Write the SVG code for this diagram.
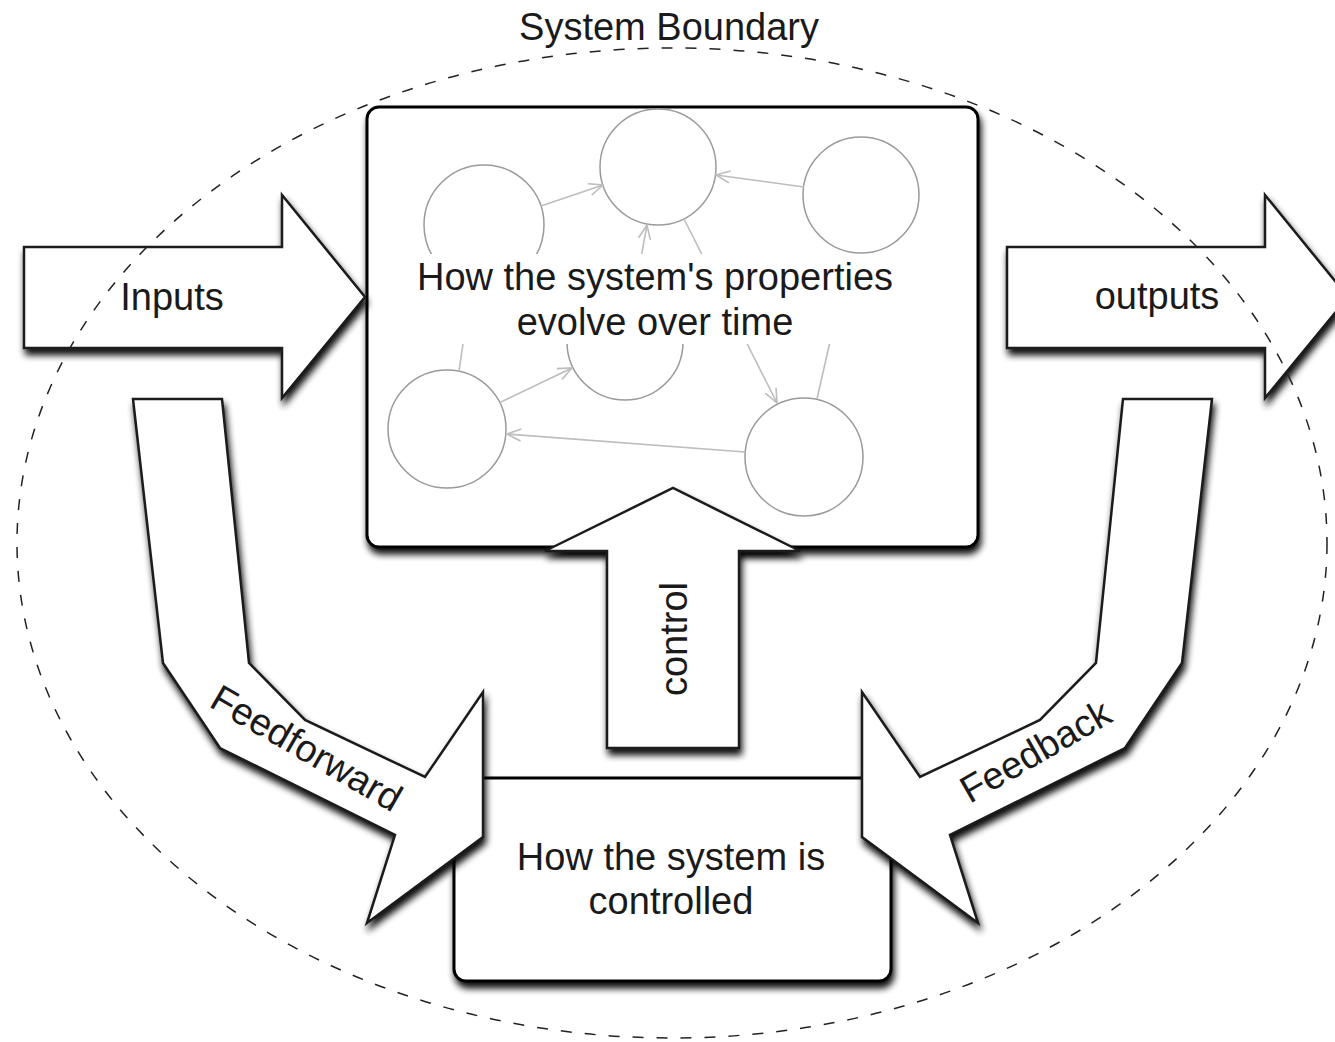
<svg xmlns="http://www.w3.org/2000/svg" width="1335" height="1042" viewBox="0 0 1335 1042">
<style>
text{font-family:"Liberation Sans",Arial,sans-serif;font-size:38px;fill:#1a1a1a;text-anchor:middle}
.box{fill:#fff;stroke:#000;stroke-width:3}
.arr{fill:#fff;stroke:#1a1a1a;stroke-width:2.5;stroke-linejoin:miter}
.circ{fill:none;stroke:#9a9a9a;stroke-width:1.5}
.link{fill:none;stroke:#bdbdbd;stroke-width:1.6}
.bound{fill:none;stroke:#222;stroke-width:1.5;stroke-dasharray:11 13}
</style>
<defs>
<filter id="sh" x="-20%" y="-20%" width="140%" height="150%">
<feGaussianBlur in="SourceAlpha" stdDeviation="3.5"/>
<feOffset dx="2" dy="6" result="o"/>
<feComponentTransfer in="o" result="s"><feFuncA type="linear" slope="0.95"/></feComponentTransfer>
<feMerge><feMergeNode in="s"/><feMergeNode in="SourceGraphic"/></feMerge>
</filter>
<marker id="open" markerUnits="userSpaceOnUse" markerWidth="16" markerHeight="14" viewBox="0 0 16 14" refX="15" refY="7" orient="auto">
<path d="M1,1 L15,7 L1,13" fill="none" stroke="#bdbdbd" stroke-width="1.6"/>
</marker>
</defs>
<rect width="1335" height="1042" fill="#fff"/>

<g id="dynamics-box">
<rect class="box" x="367" y="107" width="611" height="440" rx="12" filter="url(#sh)"/>
<g id="state-circles">
<circle class="circ" cx="658" cy="167" r="58"/>
<circle class="circ" cx="861" cy="195" r="58"/>
<circle class="circ" cx="484" cy="225" r="60"/>
<circle class="circ" cx="625" cy="342" r="58"/>
<circle class="circ" cx="447" cy="429" r="59"/>
<circle class="circ" cx="804" cy="457" r="59"/>
</g>
<g id="state-links">
<line class="link" x1="541" y1="206" x2="603" y2="185" marker-end="url(#open)"/>
<line class="link" x1="804" y1="187" x2="716" y2="175" marker-end="url(#open)"/>
<line class="link" x1="636" y1="285" x2="647" y2="225" marker-end="url(#open)"/>
<line class="link" x1="684" y1="219" x2="777" y2="403" marker-end="url(#open)"/>
<line class="link" x1="459" y1="371" x2="468" y2="310"/>
<line class="link" x1="501" y1="402" x2="572" y2="368" marker-end="url(#open)"/>
<line class="link" x1="745" y1="452" x2="507" y2="434" marker-end="url(#open)"/>
<line class="link" x1="817" y1="399" x2="836" y2="315"/>
</g>
<rect x="400" y="254" width="510" height="90" fill="#fff"/>
<text x="655" y="290">How the system's properties</text>
<text x="655" y="335">evolve over time</text>
</g>

<g id="control-box">
<rect class="box" x="454" y="778" width="437" height="203" rx="12" filter="url(#sh)"/>
<text x="671" y="870">How the system is</text>
<text x="671" y="914">controlled</text>
</g>

<g id="connectors">
<g id="inputs">
<polygon class="arr" filter="url(#sh)" points="24,247 282,247 282,195 365,297 282,398 282,348 24,348"/>
<text x="172" y="310">Inputs</text>
</g>
<g id="outputs">
<polygon class="arr" filter="url(#sh)" points="1007,247 1265,247 1265,195 1348,297 1265,398 1265,348 1007,348"/>
<text x="1157" y="309">outputs</text>
</g>
<g id="control">
<polygon class="arr" filter="url(#sh)" points="607,748 607,551 545,551 673,488 800,551 739,551 739,748"/>
<text transform="translate(687,639) rotate(-90)" x="0" y="0">control</text>
</g>
<g id="feedforward">
<polygon class="arr" filter="url(#sh)" points="133,399 222,399 249,663 305,720 425,777 483,692 483,837 367,923 395,835 220,748 163,663"/>
<text transform="translate(306,749) rotate(30)" x="0" y="12">Feedforward</text>
</g>
<g id="feedback">
<polygon class="arr" filter="url(#sh)" points="1212,399 1123,399 1096,663 1040,720 920,777 862,692 862,837 978,923 950,835 1125,748 1182,663"/>
<text transform="translate(1036,752) rotate(-30)" x="0" y="12">Feedback</text>
</g>
</g>

<g id="system-boundary">
<ellipse class="bound" cx="672" cy="543" rx="655" ry="495"/>
<text x="669" y="40">System Boundary</text>
</g>
</svg>
